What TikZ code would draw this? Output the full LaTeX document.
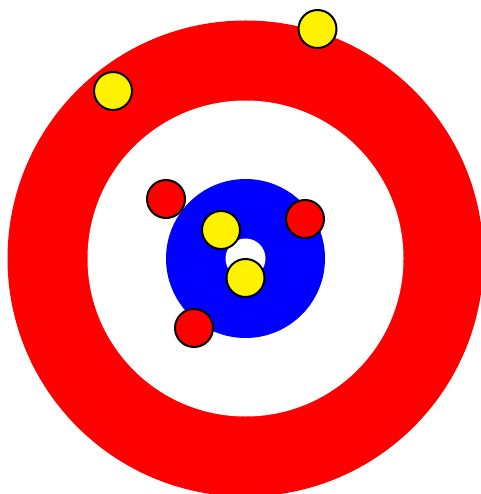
\documentclass[tikz,border=0pt]{standalone}
\begin{document}
\begin{tikzpicture}[x=1pt,y=-1pt,
  ring/.style={circle,inner sep=0pt,outer sep=0pt,draw=none},
  stone/.style={circle,inner sep=0pt,minimum size=38pt,draw=black,line width=2pt},
  redstone/.style={stone,fill=red},
  yellowstone/.style={stone,fill=yellow}]
\useasboundingbox (0,0) rectangle (480,494);
\fill[white] (0,0) rectangle (480,494);
\node[ring,fill=red,minimum size=476pt] (twelve) at (245.5,258.5) {};
\node[ring,fill=white,minimum size=316pt] (eight) at (245.5,258.5) {};
\node[ring,fill=blue,minimum size=159pt] (four) at (245.5,258.5) {};
\node[ring,fill=white,minimum size=40pt] (button) at (245.5,258.5) {};
\node[yellowstone] (y1) at (317.5,29) {};
\node[yellowstone] (y2) at (113,91) {};
\node[redstone] (r1) at (166,199) {};
\node[yellowstone] (y3) at (221,230) {};
\node[redstone] (r2) at (305,219) {};
\node[yellowstone] (y4) at (245.5,278) {};
\node[redstone] (r3) at (194,328) {};
\end{tikzpicture}
\end{document}
